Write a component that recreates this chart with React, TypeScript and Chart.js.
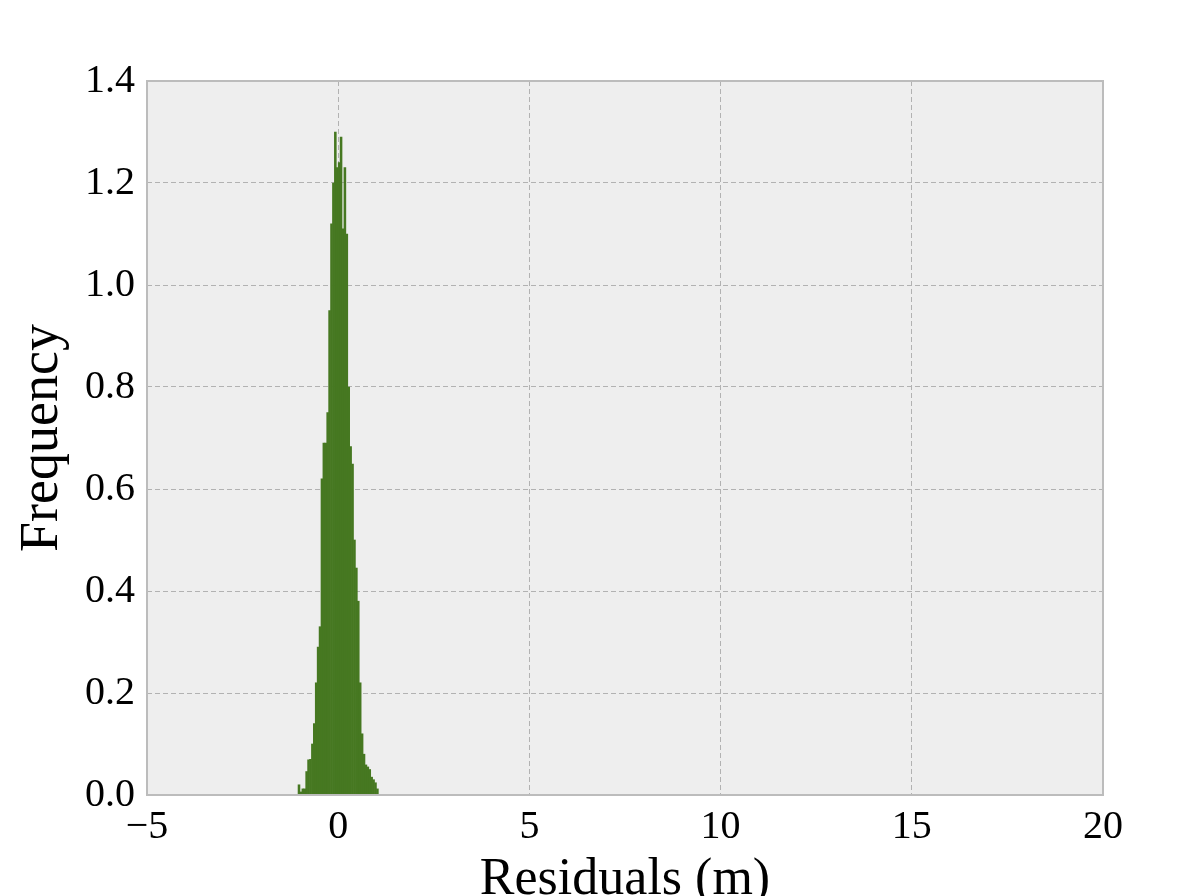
import React, { useEffect, useRef } from "react";
import { Chart, registerables } from "chart.js";

Chart.register(...registerables);

// Histogram bin centres (m) and bar heights (frequency density)
const binCenters: number[] = [
  -1.025, -0.975, -0.925, -0.875, -0.825, -0.775, -0.725, -0.675, -0.625, -0.575,
  -0.525, -0.475, -0.425, -0.375, -0.325, -0.275, -0.225, -0.175, -0.125, -0.075,
  -0.025, 0.025, 0.075, 0.125, 0.175, 0.225, 0.275, 0.325, 0.375, 0.425,
  0.475, 0.525, 0.575, 0.625, 0.675, 0.725, 0.775, 0.825, 0.875, 0.925,
  0.975, 1.025,
];
const frequencies: number[] = [
  0.02, 0.006, 0.012, 0.012, 0.046, 0.069, 0.07, 0.1, 0.14, 0.22,
  0.29, 0.33, 0.62, 0.69, 0.69, 0.75, 0.95, 1.12, 1.2, 1.3,
  1.23, 1.24, 1.29, 1.11, 1.23, 1.1, 0.8, 0.683, 0.649, 0.5,
  0.445, 0.38, 0.22, 0.12, 0.08, 0.059, 0.055, 0.05, 0.035, 0.03,
  0.024, 0.012,
];
const xTicks: number[] = [-5, 0, 5, 10, 15, 20];
const yTicks: number[] = [0, 0.2, 0.4, 0.6, 0.8, 1.0, 1.2, 1.4];

const FONT = "'Liberation Serif', 'DejaVu Serif', serif";

export default function App() {
  const ref = useRef<HTMLCanvasElement | null>(null);

  useEffect(() => {
    document.body.style.margin = "0";
    if (!ref.current) return;

    const framePlugin = {
      id: "frame",
      beforeDraw(chart: any) {
        const { ctx, chartArea: a } = chart;
        ctx.save();
        ctx.fillStyle = "#ffffff";
        ctx.fillRect(0, 0, chart.width, chart.height);
        ctx.fillStyle = "#eeeeee";
        ctx.fillRect(a.left, a.top, a.right - a.left, a.bottom - a.top);
        ctx.restore();
      },
      afterDraw(chart: any) {
        const { ctx, chartArea: a } = chart;
        ctx.save();
        ctx.strokeStyle = "#bcbcbc";
        ctx.lineWidth = 2;
        ctx.strokeRect(a.left, a.top, a.right - a.left, a.bottom - a.top);
        ctx.restore();
      },
    };

    const chart = new Chart(ref.current, {
      type: "bar",
      data: {
        datasets: [
          {
            data: binCenters.map((x, i) => ({ x, y: frequencies[i] })),
            backgroundColor: "#467821",
            borderWidth: 0,
            barPercentage: 1,
            categoryPercentage: 1,
          },
        ],
      },
      options: {
        animation: false,
        responsive: true,
        maintainAspectRatio: false,
        layout: { padding: { top: 81, right: 93, left: 0, bottom: 0 } },
        plugins: { legend: { display: false }, tooltip: { enabled: false } },
        scales: {
          x: {
            type: "linear",
            min: -5,
            max: 20,
            offset: false,
            z: 1,
            afterFit(scale: any) {
              scale.height = 101;
            },
            afterBuildTicks(scale: any) {
              scale.ticks = xTicks.map((v) => ({ value: v }));
            },
            grid: {
              color: "#b2b2b2",
              lineWidth: 1,
              tickLength: 0,
              drawTicks: false,
              offset: false,
            },
            border: { display: false, dash: [5, 3] },
            ticks: {
              color: "#000",
              padding: 8,
              maxRotation: 0,
              font: { family: FONT, size: 40 },
              callback: (v: any) => (Number(v) < 0 ? "\u2212" + Math.abs(Number(v)) : String(v)),
            },
            title: {
              display: true,
              text: "Residuals (m)",
              color: "#000",
              font: { family: FONT, size: 52, lineHeight: 0.6 },
              padding: { top: 0, bottom: 0 },
            },
          },
          y: {
            min: 0,
            max: 1.4,
            z: 1,
            afterFit(scale: any) {
              scale.width = 147;
            },
            afterBuildTicks(scale: any) {
              scale.ticks = yTicks.map((v) => ({ value: v }));
            },
            grid: {
              color: "#b2b2b2",
              lineWidth: 1,
              tickLength: 0,
              drawTicks: false,
            },
            border: { display: false, dash: [5, 3] },
            ticks: {
              color: "#000",
              padding: 12,
              font: { family: FONT, size: 40 },
              callback: (v: any) => Number(v).toFixed(1),
            },
            title: {
              display: true,
              text: "Frequency",
              color: "#000",
              font: { family: FONT, size: 54, lineHeight: 1.2 },
              padding: { top: 10, bottom: 0 },
            },
          },
        },
      },
      plugins: [framePlugin],
    } as any);

    return () => chart.destroy();
  }, []);

  return (
    <div style={{ position: "fixed", left: 0, top: 0, width: 1196, height: 896 }}>
      <canvas ref={ref} />
    </div>
  );
}
